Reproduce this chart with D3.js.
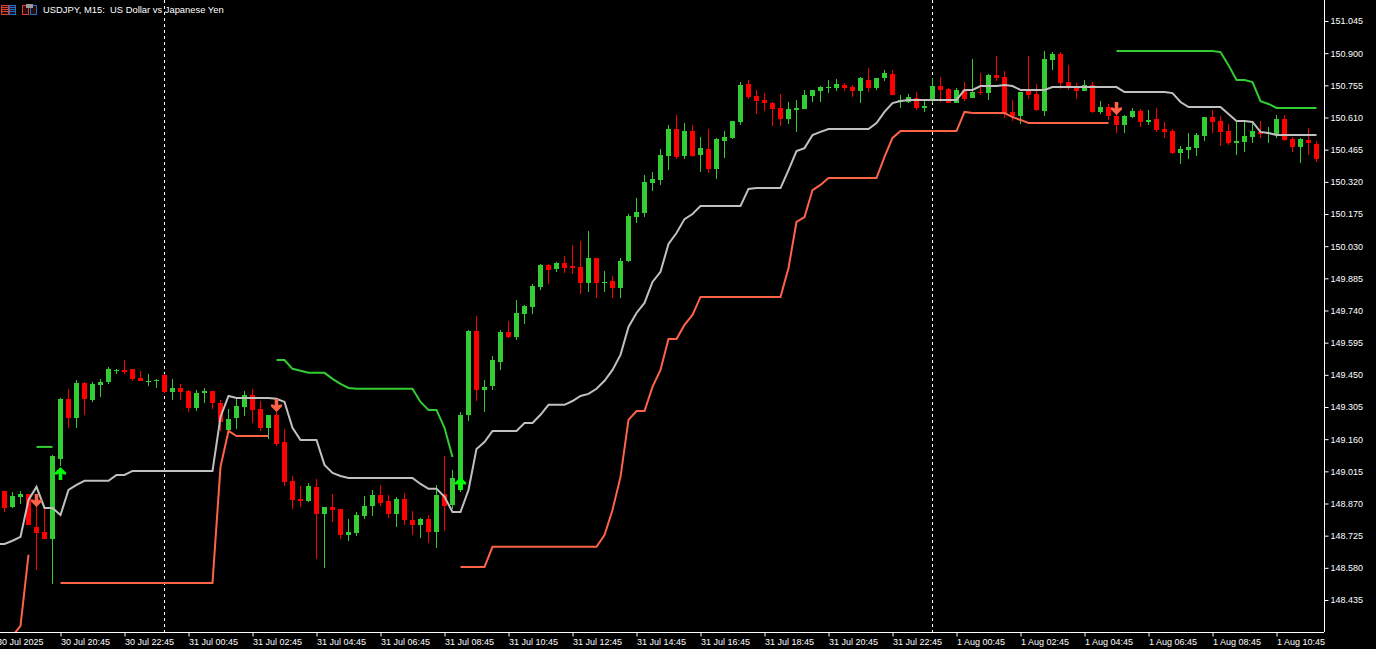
<!DOCTYPE html>
<html>
<head>
<meta charset="utf-8">
<style>
html, body { margin: 0; padding: 0; background: #000; overflow: hidden; }
text { font-family: "Liberation Sans", Arial, sans-serif; font-size: 9px; fill: #fff; }
.title { font-size: 9.4px; }
</style>
<script src="https://cdn.jsdelivr.net/npm/d3@7/dist/d3.min.js"></script>
</head>
<body>
<svg id="chart" width="1376" height="649"></svg>
<script>
var title = 'USDJPY, M15:  US Dollar vs Japanese Yen';

// USDJPY M15 candles, one value per bar. Bar 0 sits just off the left edge.
var opens = [
148.85,148.926,148.854,148.9,148.913,148.765,148.742,148.711,149.07,149.342,149.256,149.414,149.337,149.405,149.418,149.468,149.472,149.477,149.436,149.418,149.423,
149.45,149.373,149.391,149.378,149.301,149.369,149.378,149.323,149.201,149.256,149.305,149.36,149.296,149.211,149.27,149.147,148.972,148.891,148.882,148.945,
148.823,148.854,148.845,148.728,148.737,148.814,148.859,148.908,148.882,148.823,148.891,148.796,148.774,148.8,148.742,148.913,148.863,148.931,149.27,149.648,
149.382,149.4,149.508,149.643,149.621,149.724,149.756,149.846,149.945,149.927,149.954,149.941,149.936,149.864,149.977,149.864,149.873,149.841,149.963,150.161,
150.179,150.314,150.328,150.436,150.558,150.436,150.549,150.441,150.468,150.378,150.504,150.518,150.59,150.761,150.707,150.689,150.675,150.653,150.603,150.644,
150.648,150.707,150.729,150.743,150.743,150.756,150.747,150.729,150.779,150.743,150.788,150.806,150.68,150.68,150.698,150.653,150.684,150.752,150.738,150.675,
150.734,150.698,150.725,150.72,150.801,150.792,150.635,150.617,150.729,150.716,150.639,150.869,150.896,150.77,150.747,150.729,150.756,150.635,150.657,150.617,
150.576,150.612,150.639,150.59,150.603,150.558,150.549,150.45,150.463,150.472,150.527,150.612,150.594,150.549,150.495,150.5,150.522,150.545,150.536,150.531,
150.603,150.513,150.477,150.509,150.491
];
var highs = [
148.931,148.926,148.922,148.926,148.913,148.908,148.845,149.088,149.346,149.387,149.427,149.418,149.418,149.432,149.486,149.477,149.517,149.477,149.468,149.454,149.432,
149.454,149.432,149.409,149.382,149.382,149.391,149.378,149.337,149.296,149.342,149.378,149.387,149.332,149.27,149.337,149.206,148.994,148.949,148.963,148.981,
148.854,148.913,148.845,148.8,148.832,148.904,148.931,148.954,148.908,148.9,148.918,148.836,148.805,148.818,148.954,149.084,149.021,149.283,149.652,149.715,
149.427,149.535,149.652,149.693,149.787,149.765,149.86,149.95,149.95,149.959,149.986,150.035,150.053,150.098,149.977,149.918,149.896,149.977,150.175,150.247,
150.351,150.364,150.468,150.576,150.621,150.585,150.576,150.522,150.558,150.518,150.549,150.594,150.77,150.779,150.734,150.72,150.68,150.716,150.68,150.689,
150.734,150.734,150.752,150.779,150.783,150.765,150.756,150.792,150.833,150.788,150.824,150.824,150.711,150.716,150.725,150.689,150.788,150.792,150.743,150.743,
150.77,150.873,150.81,150.806,150.887,150.819,150.689,150.725,150.887,150.761,150.909,150.905,150.905,150.846,150.765,150.779,150.77,150.684,150.671,150.644,
150.621,150.653,150.648,150.644,150.653,150.59,150.558,150.482,150.54,150.54,150.612,150.644,150.617,150.581,150.599,150.59,150.59,150.594,150.567,150.621,
150.621,150.522,150.518,150.563,150.504
];
var lows = [
148.859,148.832,148.85,148.868,148.774,148.57,148.711,148.507,149.039,149.211,149.211,149.27,149.328,149.351,149.409,149.454,149.454,149.423,149.423,149.4,149.391,
149.369,149.337,149.337,149.283,149.288,149.323,149.296,149.197,149.197,149.206,149.265,149.233,149.197,149.161,149.129,148.949,148.845,148.854,148.877,148.621,
148.58,148.787,148.711,148.702,148.724,148.8,148.814,148.859,148.805,148.765,148.774,148.728,148.715,148.693,148.67,148.747,148.845,148.922,149.242,149.332,
149.283,149.382,149.472,149.616,149.607,149.679,149.724,149.832,149.86,149.914,149.909,149.905,149.814,149.823,149.796,149.823,149.796,149.796,149.959,150.134,
150.161,150.279,150.306,150.373,150.423,150.423,150.432,150.364,150.36,150.332,150.427,150.513,150.576,150.693,150.626,150.639,150.572,150.572,150.581,150.545,
150.648,150.68,150.68,150.72,150.729,150.729,150.702,150.675,150.725,150.734,150.774,150.711,150.653,150.675,150.644,150.635,150.675,150.68,150.675,150.675,
150.684,150.698,150.711,150.689,150.774,150.608,150.594,150.581,150.693,150.639,150.617,150.824,150.738,150.734,150.693,150.729,150.63,150.626,150.599,150.54,
150.54,150.608,150.567,150.576,150.545,150.518,150.446,150.4,150.423,150.436,150.504,150.54,150.482,150.486,150.441,150.454,150.495,150.518,150.495,150.518,
150.504,150.454,150.405,150.441,150.409
];
var closes = [
148.9,148.85,148.904,148.913,148.774,148.737,148.711,149.084,149.342,149.256,149.414,149.342,149.409,149.418,149.477,149.472,149.463,149.432,149.423,149.423,149.427,
149.373,149.391,149.373,149.301,149.369,149.378,149.323,149.238,149.251,149.31,149.36,149.292,149.211,149.27,149.138,148.967,148.886,148.882,148.949,148.823,
148.854,148.841,148.728,148.742,148.818,148.859,148.908,148.872,148.823,148.891,148.796,148.774,148.8,148.742,148.908,148.859,148.985,149.27,149.648,149.382,
149.396,149.517,149.643,149.621,149.729,149.76,149.851,149.945,149.923,149.954,149.932,149.932,149.864,149.977,149.864,149.869,149.841,149.963,150.166,150.184,
150.319,150.332,150.441,150.558,150.432,150.549,150.436,150.472,150.378,150.513,150.522,150.594,150.756,150.703,150.684,150.675,150.648,150.603,150.648,150.653,
150.711,150.734,150.747,150.747,150.761,150.743,150.729,150.788,150.743,150.788,150.81,150.711,150.689,150.702,150.653,150.662,150.752,150.734,150.675,150.734,
150.693,150.725,150.72,150.801,150.788,150.626,150.617,150.725,150.711,150.644,150.873,150.896,150.765,150.752,150.729,150.756,150.635,150.657,150.617,150.576,
150.617,150.639,150.59,150.599,150.554,150.545,150.45,150.468,150.477,150.531,150.612,150.59,150.545,150.495,150.504,150.527,150.549,150.536,150.54,150.603,
150.509,150.477,150.513,150.495,150.423
];

// grey midline, one value per bar
var midLine = [
148.688,148.688,148.702,148.72,148.886,148.945,148.85,148.85,148.818,148.931,148.954,148.972,148.972,148.972,148.972,148.999,148.999,149.017,
149.017,149.017,149.017,149.017,149.017,149.017,149.017,149.017,149.017,149.017,149.26,149.355,149.346,149.346,149.346,149.346,149.346,149.342,149.328,
149.211,149.156,149.156,149.156,149.044,149.008,148.994,148.985,148.985,148.985,148.985,148.985,148.985,148.985,148.985,148.985,148.958,148.936,148.936,
148.9,148.832,148.832,148.931,149.116,149.147,149.197,149.197,149.197,149.197,149.233,149.233,149.27,149.315,149.315,149.315,149.332,149.355,149.364,
149.387,149.423,149.472,149.54,149.666,149.729,149.774,149.869,149.914,150.04,150.089,150.152,150.175,150.211,150.211,150.211,150.211,150.211,150.211,
150.288,150.292,150.292,150.292,150.292,150.373,150.459,150.472,150.531,150.545,150.558,150.558,150.558,150.558,150.558,150.558,150.585,150.635,150.675,
150.684,150.689,150.689,150.689,150.689,150.689,150.689,150.689,150.734,150.734,150.752,150.752,150.752,150.756,150.752,150.734,150.734,150.734,150.734,
150.747,150.747,150.747,150.747,150.747,150.747,150.747,150.747,150.747,150.725,150.725,150.725,150.725,150.725,150.725,150.72,150.68,150.657,150.657,
150.657,150.657,150.657,150.626,150.594,150.594,150.59,150.545,150.54,150.531,150.531,150.531,150.531,150.531,150.531
];

// orange lower band pieces
var lowerStarts = [2, 8, 58];
var lowerBand1 = [148.273,148.318,148.639];
var lowerBand2 = [
148.512,148.512,148.512,148.512,148.512,148.512,148.512,148.512,148.512,148.512,
148.512,148.512,148.512,148.512,148.512,148.512,148.512,148.512,148.512,148.512,
149.035,149.197,149.174,149.174,149.174,149.174,149.174
];
var lowerBand3 = [
148.584,148.584,148.584,148.584,148.675,148.675,148.675,148.675,148.675,148.675,148.675,148.675,148.675,148.675,148.675,148.675,148.675,148.675,
148.728,148.841,148.99,149.247,149.287,149.287,149.396,149.472,149.612,149.612,149.675,149.72,149.801,
149.801,149.801,149.801,149.801,149.801,149.801,149.801,149.801,149.801,149.801,
149.932,150.139,150.161,150.283,150.306,150.337,150.337,150.337,150.337,150.337,150.337,150.337,
150.432,150.518,150.549,150.549,150.549,150.549,150.549,150.549,150.549,150.549,
150.635,150.63,150.63,150.63,150.63,150.63,150.612,150.599,150.585,
150.585,150.585,150.585,150.585,150.585,150.585,150.585,150.585,150.585,150.585
];

// green upper band pieces
var upperStarts = [5, 35, 140];
var upperBand1 = [149.125,149.125,149.125];
var upperBand2 = [
149.517,149.517,149.477,149.468,149.459,149.459,149.459,149.432,149.409,149.391,
149.387,149.387,149.387,149.387,149.387,149.387,149.387,149.387,149.328,149.292,149.292,149.211,149.08
];
var upperBand3 = [
150.91,150.91,150.91,150.91,150.91,150.91,150.91,150.91,150.91,150.91,150.91,150.91,150.91,
150.905,150.846,150.779,150.779,150.77,150.684,150.671,150.653,150.653,150.653,150.653,150.653,150.653
];

// signal arrows: bar index and the price at the arrow tip
var buyBars = [8, 58];
var buyPrices = [149.035, 148.99];
var sellBars = [5, 35, 140];
var sellPrices = [148.854, 149.283, 150.621];

// period separators
var separatorBars = [21, 117];

var priceTicks = [
151.045,150.9,150.755,150.61,150.465,150.32,150.175,150.03,149.885,149.74,
149.595,149.45,149.305,149.16,149.015,148.87,148.725,148.58,148.435
];
var timeBars = [0,8,16,24,32,40,48,56,64,72,80,88,96,104,112,120,128,136,144,152,160];
var timeLabels = [
'30 Jul 2025','30 Jul 20:45','30 Jul 22:45','31 Jul 00:45','31 Jul 02:45','31 Jul 04:45','31 Jul 06:45',
'31 Jul 08:45','31 Jul 10:45','31 Jul 12:45','31 Jul 14:45','31 Jul 16:45','31 Jul 18:45','31 Jul 20:45',
'31 Jul 22:45','1 Aug 00:45','1 Aug 02:45','1 Aug 04:45','1 Aug 06:45','1 Aug 08:45','1 Aug 10:45'
];

var green = '#32cd32';
var red = '#ff0000';
var tomato = '#ff6347';
var plotRight = 1324;
var plotBottom = 632;

var svg = d3.select('#chart');

var xScale = d3.scaleLinear().domain([0, 165]).range([-3.5, 1316.5]);
var yScale = d3.scaleLinear().domain([148.435, 151.045]).range([600, 21]);

svg.append('defs').append('clipPath').attr('id', 'plot')
    .append('rect')
    .attr('width', plotRight)
    .attr('height', plotBottom);

var plot = svg.append('g').attr('clip-path', 'url(#plot)');

/* Separators */
plot.selectAll('.separator')
    .data(separatorBars)
    .join('line')
    .attr('class', 'separator')
    .attr('x1', function(d) { return xScale(d); })
    .attr('x2', function(d) { return xScale(d); })
    .attr('y1', 0)
    .attr('y2', plotBottom)
    .style('stroke', '#fff')
    .style('stroke-dasharray', '3,3');

/* Candles */
var candles = plot.selectAll('.candle')
    .data(opens)
    .join('g')
    .attr('class', 'candle')
    .style('shape-rendering', 'crispEdges');

function candleColor(d, i) {
    return closes[i] >= d ? green : red;
}

candles.append('rect')
    .attr('x', function(d, i) { return Math.floor(xScale(i)); })
    .attr('width', 1)
    .attr('y', function(d, i) { return Math.round(yScale(highs[i])); })
    .attr('height', function(d, i) {
        return Math.max(1, Math.round(yScale(lows[i])) - Math.round(yScale(highs[i])));
    })
    .style('fill', candleColor);

candles.append('rect')
    .attr('x', function(d, i) { return Math.floor(xScale(i)) - 2; })
    .attr('width', 5)
    .attr('y', function(d, i) { return Math.round(yScale(Math.max(d, closes[i]))); })
    .attr('height', function(d, i) {
        return Math.max(1, Math.round(yScale(Math.min(d, closes[i]))) - Math.round(yScale(Math.max(d, closes[i]))));
    })
    .style('fill', candleColor);

/* Band lines */
function drawLine(values, start, color) {
    var lineGenerator = d3.line()
        .x(function(d, i) { return xScale(start + i); })
        .y(function(d) { return yScale(d); });

    plot.append('path')
        .attr('d', lineGenerator(values))
        .style('fill', 'none')
        .style('stroke', color)
        .style('stroke-width', 2);
}

drawLine(midLine, 0, '#c0c0c0');
drawLine(lowerBand1, lowerStarts[0], tomato);
drawLine(lowerBand2, lowerStarts[1], tomato);
drawLine(lowerBand3, lowerStarts[2], tomato);
drawLine(upperBand1, upperStarts[0], green);
drawLine(upperBand2, upperStarts[1], green);
drawLine(upperBand3, upperStarts[2], green);

/* Signal arrows */
function drawArrows(bars, prices, color, dir) {
    plot.selectAll('.arrow' + dir)
        .data(bars)
        .join('path')
        .attr('class', 'arrow' + dir)
        .attr('transform', function(d, i) {
            return 'translate(' + xScale(d) + ',' + yScale(prices[i]) + ') scale(1,' + dir + ')';
        })
        .attr('d', 'M0,0L5.5,5.5V7.5H3.2L1.8,6.5V13H-1.8V6.5L-3.2,7.5H-5.5V5.5Z')
        .style('fill', color);
}

drawArrows(buyBars, buyPrices, '#00ff00', 1);
drawArrows(sellBars, sellPrices, tomato, -1);

/* Axes */
var priceAxis = d3.axisRight(yScale)
    .tickValues(priceTicks)
    .tickFormat(d3.format('.3f'))
    .tickSize(4)
    .tickPadding(2);

svg.append('g')
    .attr('transform', 'translate(' + (plotRight + 0.5) + ',0)')
    .call(priceAxis)
    .call(function(g) { g.select('.domain').remove(); })
    .call(function(g) { g.selectAll('line').attr('stroke', '#fff'); });

var timeAxis = d3.axisBottom(xScale)
    .tickValues(timeBars)
    .tickFormat(function(d, i) { return timeLabels[i]; })
    .tickSize(4)
    .tickPadding(2);

svg.append('g')
    .attr('transform', 'translate(0,' + (plotBottom + 0.5) + ')')
    .call(timeAxis)
    .call(function(g) { g.select('.domain').remove(); })
    .call(function(g) { g.selectAll('line').attr('stroke', '#fff'); })
    .call(function(g) { g.selectAll('text').attr('text-anchor', 'start'); });

svg.append('line')
    .attr('x1', plotRight + 0.5).attr('x2', plotRight + 0.5)
    .attr('y1', 0).attr('y2', plotBottom)
    .style('stroke', '#fff');
svg.append('line')
    .attr('x1', 0).attr('x2', plotRight)
    .attr('y1', plotBottom + 0.5).attr('y2', plotBottom + 0.5)
    .style('stroke', '#fff');

/* Header */
svg.append('text')
    .attr('class', 'title')
    .attr('x', 43)
    .attr('y', 12.5)
    .style('white-space', 'pre')
    .text(title);

var icons = svg.append('g').style('shape-rendering', 'crispEdges');

function iconBox(x, y, w, h, color) {
    icons.append('rect').attr('x', x + 0.5).attr('y', y + 0.5).attr('width', w).attr('height', h)
        .style('fill', '#2a0d0d').style('stroke', color);
}

function iconStripes(x, w, color) {
    [7, 9, 11].forEach(function(y) {
        icons.append('rect').attr('x', x).attr('y', y).attr('width', w).attr('height', 1).style('fill', color);
    });
}

iconBox(1, 5, 7, 9, '#e04030');
iconBox(9, 5, 6, 9, '#2070d0');
iconStripes(2, 6, '#e04030');
iconStripes(10, 5, '#2070d0');
iconBox(22, 5, 6, 9, '#e04030');
iconBox(30, 5, 6, 9, '#2070d0');
icons.append('rect').attr('x', 26).attr('y', 4).attr('width', 7).attr('height', 4).style('fill', '#9a9a9a');
</script>
</body>
</html>
